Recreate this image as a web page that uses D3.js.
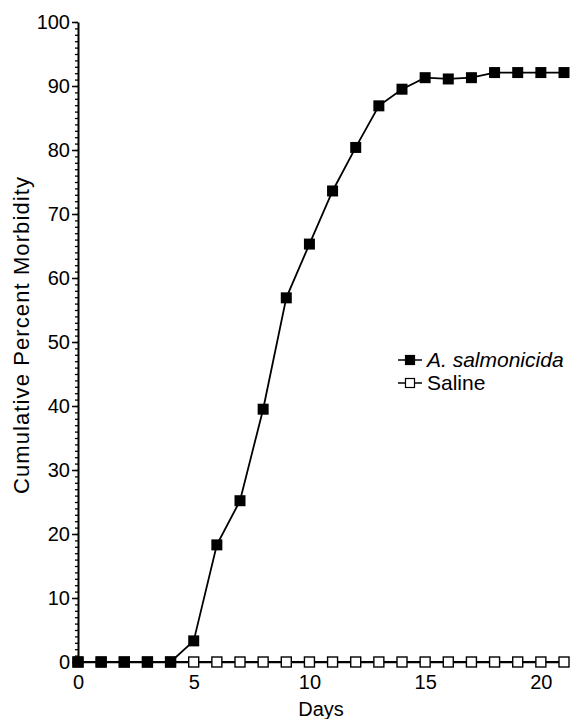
<!DOCTYPE html>
<html>
<head>
<meta charset="utf-8">
<script src="https://cdn.jsdelivr.net/npm/d3@7"></script>
<style>
  html, body { margin: 0; padding: 0; background: #fff; }
  svg { display: block; }
  text { font-family: "Liberation Sans", Arial, Helvetica, sans-serif; fill: #000; }
</style>
</head>
<body>
<svg id="chart" width="571" height="719"></svg>
<script>
const days = [0,1,2,3,4,5,6,7,8,9,10,11,12,13,14,15,16,17,18,19,20,21];
const salmonicida = [0,0,0,0,0,3.3,18.3,25.2,39.5,56.9,65.3,73.6,80.4,86.9,89.5,91.3,91.1,91.3,92.1,92.1,92.1,92.1];
const saline = [0,0,0,0,0,0,0,0,0,0,0,0,0,0,0,0,0,0,0,0,0,0];
const xTicks = [0,5,10,15,20];
const yTicks = [0,10,20,30,40,50,60,70,80,90,100];
const seriesNames = ["A. salmonicida", "Saline"];

const svg = d3.select("#chart");
const x = d3.scaleLinear().domain([0,21]).range([78,564]);
const y = d3.scaleLinear().domain([0,100]).range([662,22]);

// Y axis minor ticks
svg.append("g").attr("transform","translate(78,0)")
  .call(d3.axisLeft(y).tickValues(d3.range(0,101,1)).tickSize(3).tickFormat(""))
  .call(g => g.select(".domain").remove())
  .call(g => g.selectAll("line").attr("stroke","#000").attr("stroke-width",1.3));
// Y axis major
const ya = svg.append("g").attr("transform","translate(78,0)")
  .call(d3.axisLeft(y).tickValues(yTicks).tickSize(6).tickSizeOuter(0).tickPadding(2));
ya.select(".domain").attr("stroke","#000").attr("stroke-width",2);
ya.selectAll("line").attr("stroke","#000").attr("stroke-width",1.5);
ya.selectAll("text").attr("font-size","20px").attr("dy","0.32em")
  .style("font-family",'"Liberation Sans", Arial, sans-serif');

// X axis
const xa = svg.append("g").attr("transform","translate(0,662)")
  .call(d3.axisBottom(x).tickValues(xTicks).tickSize(5).tickSizeOuter(0).tickPadding(8));
xa.select(".domain").attr("stroke","#000").attr("stroke-width",1.5);
xa.selectAll("line").attr("stroke","#000").attr("stroke-width",1.5);
xa.selectAll("text").attr("font-size","20px")
  .style("font-family",'"Liberation Sans", Arial, sans-serif');

// Axis titles
svg.append("text").attr("x", 321).attr("y", 716).attr("text-anchor","middle")
  .attr("font-size","20px").text("Days");
svg.append("text").attr("transform","translate(29,335) rotate(-90)").attr("text-anchor","middle")
  .attr("font-size","22px").attr("letter-spacing","1.1px").text("Cumulative Percent Morbidity");

const line = d3.line().x((d,i)=>x(days[i])).y(d=>y(d));
const ms = 11;

// Saline
svg.append("path").datum(saline).attr("d", line).attr("fill","none")
  .attr("stroke","#000").attr("stroke-width",1.8);
svg.selectAll("rect.sal").data(saline).enter().append("rect").attr("class","sal")
  .attr("x",(d,i)=>x(days[i])-ms/2+0.5).attr("y",d=>y(d)-ms/2+0.5)
  .attr("width",ms-1).attr("height",ms-1)
  .attr("fill","#fff").attr("stroke","#000").attr("stroke-width",1.4);

// A. salmonicida
svg.append("path").datum(salmonicida).attr("d", line).attr("fill","none")
  .attr("stroke","#000").attr("stroke-width",1.8);
svg.selectAll("rect.sal2").data(salmonicida).enter().append("rect").attr("class","sal2")
  .attr("x",(d,i)=>x(days[i])-ms/2).attr("y",d=>y(d)-ms/2)
  .attr("width",ms).attr("height",ms).attr("fill","#000");

// Legend
const leg = svg.append("g");
const lrows = [
  {name: seriesNames[0], fill: "#000", italic: true, y: 360},
  {name: seriesNames[1], fill: "#fff", italic: false, y: 383}
];
lrows.forEach(r => {
  leg.append("line").attr("x1",398).attr("x2",422).attr("y1",r.y).attr("y2",r.y)
    .attr("stroke","#000").attr("stroke-width",1.5);
  leg.append("rect").attr("x",405.5).attr("y",r.y-4.5).attr("width",9).attr("height",9)
    .attr("fill",r.fill).attr("stroke","#000").attr("stroke-width",1.2);
  leg.append("text").attr("x",427).attr("y",r.y).attr("dy","0.35em")
    .attr("font-size","21px").attr("font-style", r.italic ? "italic" : "normal").text(r.name);
});
</script>
</body>
</html>
